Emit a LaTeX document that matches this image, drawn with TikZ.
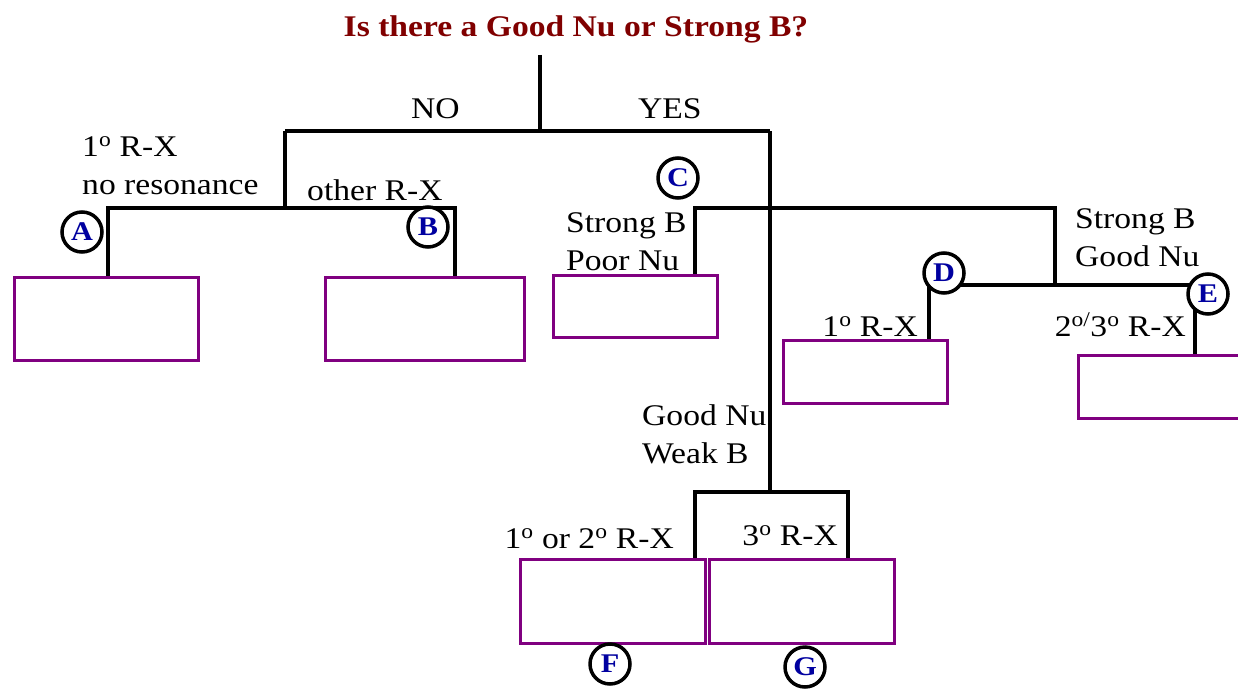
\documentclass[tikz,border=0pt]{standalone}
\usepackage{fontspec}
\setmainfont[FakeStretch=1.12]{Liberation Serif}
\definecolor{titlered}{RGB}{128,0,0}
\definecolor{boxpurple}{RGB}{128,0,128}
\definecolor{tagblue}{RGB}{0,0,160}
\newcommand{\dg}{\textsuperscript{o}}

\begin{document}
\begin{tikzpicture}[
  x=1pt, y=-1pt,
  lbl/.style={font=\fontsize{30}{38}\selectfont, inner sep=0pt, anchor=base west, align=left},
  rlbl/.style={lbl, anchor=base east},
  tree/.style={line width=4pt},
  res/.style={draw=boxpurple, line width=3pt, fill=white, anchor=north west, inner sep=0pt},
  tag/.style={circle, draw, line width=3.5pt, fill=white, minimum size=40pt, inner sep=0pt,
    text=tagblue, font=\fontsize{27}{27}\selectfont\bfseries}
]
\useasboundingbox (0,0) rectangle (1238,690);

% question
\node[font=\fontsize{30}{34}\selectfont\bfseries, text=titlered, anchor=base, inner sep=0pt]
  (q) at (576,37) {Is there a Good Nu or Strong B?};

% junctions of the tree
\coordinate (top)   at (540,55);
\coordinate (split) at (540,131);
\coordinate (noT)   at (285,131);
\coordinate (yesT)  at (770,131);
\coordinate (noJ)   at (285,208);
\coordinate (dA)    at (108,276);
\coordinate (dB)    at (455,276);
\coordinate (dC)    at (695,274);
\coordinate (sJ)    at (1055,208);
\coordinate (eK)    at (1195,285);
\coordinate (dD)    at (929,339);
\coordinate (dE)    at (1195,354);
\coordinate (gK)    at (848,492);
\coordinate (dF)    at (695,558);
\coordinate (dG)    at (848,558);

\draw[tree] (top) -- (split);
\draw[tree] (noT) -- (yesT);
\draw[tree] (noT) -- (noJ);
\draw[tree] (dA) |- (noJ) -| (dB);
\draw[tree] (yesT) -- (yesT |- gK);
\draw[tree] (dC) |- (sJ) -- (sJ |- eK);
\draw[tree] (dD) |- (eK) -- (dE);
\draw[tree] (dF) |- (gK) -- (dG);

% result boxes
\node[res, minimum width=184pt, minimum height=83pt] (boxA) at (13,276) {};
\node[res, minimum width=199pt, minimum height=83pt] (boxB) at (324,276) {};
\node[res, minimum width=164pt, minimum height=62pt] (boxC) at (552,274) {};
\node[res, minimum width=164pt, minimum height=63pt] (boxD) at (782,339) {};
\node[res, minimum width=180pt, minimum height=63pt] (boxE) at (1077,354) {};
\node[res, minimum width=185pt, minimum height=84pt] (boxF) at (519,558) {};
\node[res, minimum width=185pt, minimum height=84pt] (boxG) at (708,558) {};

% letters
\node[tag] (tA) at (82,232)   {A};
\node[tag] (tB) at (428,227)  {B};
\node[tag] (tC) at (678,178)  {C};
\node[tag] (tD) at (944,273)  {D};
\node[tag] (tE) at (1208,294) {E};
\node[tag] (tF) at (610,664)  {F};
\node[tag] (tG) at (805,667)  {G};

% branch labels
\node[lbl] (lNo)  at (411,118) {NO};
\node[lbl] (lYes) at (638,118) {YES};
\node[lbl] (lA) at (82,194)  {1\dg{} R-X\\no resonance};
\node[lbl] (lB) at (307,200) {other R-X};
\node[lbl] (lC) at (566,270) {Strong B\\Poor Nu};
\node[lbl] (lS) at (1075,266) {Strong B\\Good Nu};
\node[rlbl] (lD) at (918,336) {1\dg{} R-X};
\node[rlbl] (lE) at (1186,336) {2\textsuperscript{o/}3\dg{} R-X};
\node[lbl] (lW) at (642,463) {Good Nu\\Weak B};
\node[rlbl] (lF) at (674,548) {1\dg{} or 2\dg{} R-X};
\node[rlbl] (lG) at (838,545) {3\dg{} R-X};
\end{tikzpicture}
\end{document}
